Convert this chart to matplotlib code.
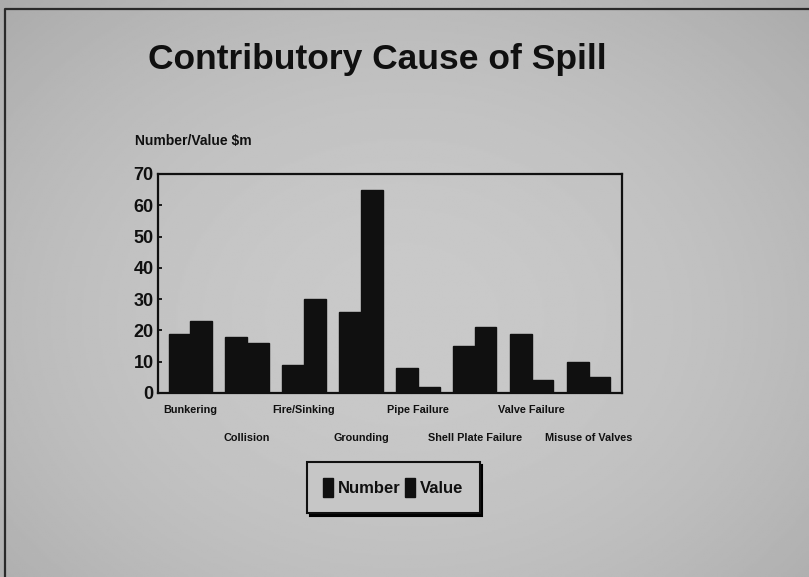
import matplotlib.pyplot as plt
import numpy as np
from matplotlib.patches import Patch

# Spill causes, number of incidents and value ($m)
causes = ['Bunkering', 'Collision', 'Fire/Sinking', 'Grounding', 'Pipe Failure',
          'Shell Plate Failure', 'Valve Failure', 'Misuse of Valves']
number = [19, 18, 9, 26, 8, 15, 19, 10]
value = [23, 16, 30, 65, 2, 21, 4, 5]

FONT = ['Liberation Sans', 'DejaVu Sans']
plt.rcParams['font.family'] = FONT
INK = '#101010'

fig = plt.figure(figsize=(8.09, 5.77), dpi=100)

# grey slide background, a little darker towards the bottom and edges
bg = fig.add_axes([0, 0, 1, 1], zorder=-10)
yy, xx = np.mgrid[-1:1:300j, -1:1:420j]
shade = 0.79 - 0.06 * xx ** 2 - 0.05 * (yy + 0.2) ** 2 + 0.03 * yy
bg.imshow(shade, cmap='gray', vmin=0, vmax=1, aspect='auto', extent=[0, 1, 0, 1])
bg.plot([0.006, 0.006, 1.0], [0.0, 0.984, 0.984], color='#2a2a2a', lw=1.6)
bg.set_xlim(0, 1)
bg.set_ylim(0, 1)
bg.axis('off')

fig.text(0.183, 0.897, 'Contributory Cause of Spill', fontsize=25.5, fontweight='bold',
         color=INK, ha='left', va='center')
fig.text(0.167, 0.755, 'Number/Value $m', fontsize=10, fontweight='bold',
         color=INK, ha='left', va='center')

ax = fig.add_axes([0.195, 0.319, 0.5735, 0.3795])
ax.set_facecolor('none')
x = np.arange(len(causes))
w = 0.38
ax.bar(x - w / 2, number, w, color=INK, edgecolor=INK, label='Number')
ax.bar(x + w / 2, value, w, color=INK, edgecolor=INK, label='Value')

ax.set_xlim(-0.57, 7.58)
ax.set_ylim(0, 70)
ax.set_yticks(range(0, 71, 10))
ax.tick_params(axis='y', labelsize=13, length=3, width=1.2, pad=3, direction='in',
               labelcolor=INK)
for t in ax.get_yticklabels():
    t.set_fontweight('bold')
ax.set_xticks(x)
ax.set_xticklabels([])
ax.tick_params(axis='x', length=0)
for s in ax.spines.values():
    s.set_linewidth(1.6)
    s.set_color(INK)

# staggered category labels
for i, c in enumerate(causes):
    off = -0.08 if i % 2 == 0 else -0.205
    ax.text(i, off, c, transform=ax.get_xaxis_transform(), ha='center', va='center',
            fontsize=7.8, fontweight='bold', color=INK)

handles = [Patch(facecolor=INK, edgecolor=INK, label='Number'),
           Patch(facecolor=INK, edgecolor=INK, label='Value')]
leg = fig.legend(handles=handles, loc='center', bbox_to_anchor=(0.486, 0.155), ncol=2,
                 frameon=True, shadow={'color': 'black', 'alpha': 1.0}, fancybox=False,
                 handlelength=0.6, handleheight=1.3, handletextpad=0.25,
                 columnspacing=0.3, borderpad=1.0,
                 prop={'weight': 'bold', 'size': 12})
for t in leg.get_texts():
    t.set_color(INK)
leg.get_frame().set_edgecolor(INK)
leg.get_frame().set_facecolor('#c6c6c6')
leg.get_frame().set_linewidth(1.5)

fig.savefig('out.png', dpi=100)
